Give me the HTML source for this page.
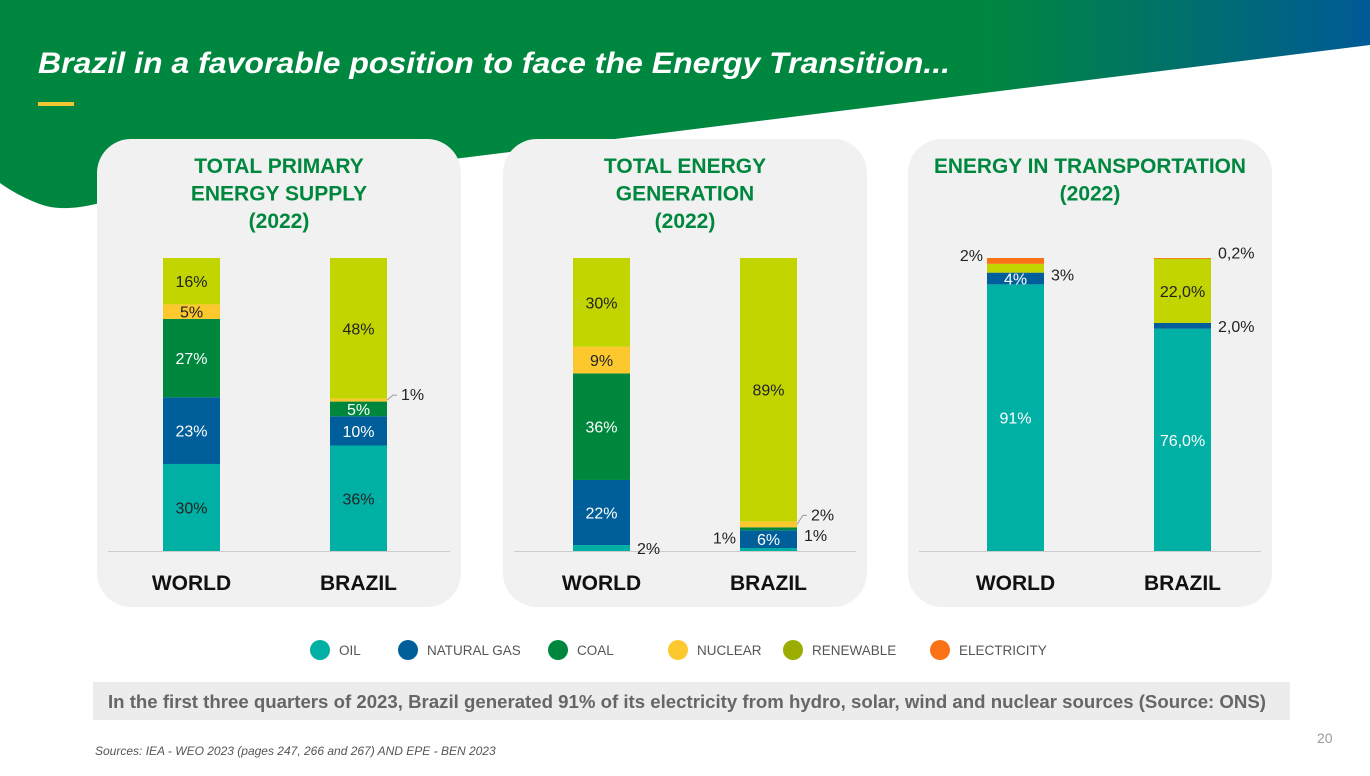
<!DOCTYPE html>
<html><head><meta charset="utf-8"><style>
body{margin:0;width:1370px;height:771px;overflow:hidden;background:#fff;font-family:"Liberation Sans",sans-serif}
svg text{font-family:"Liberation Sans",sans-serif}
</style></head><body>
<svg id="s" width="1370" height="771" viewBox="0 0 1370 771" xmlns="http://www.w3.org/2000/svg">
<defs><linearGradient id="hg" x1="0" x2="1" y1="0" y2="0"><stop offset="0" stop-color="#00873f"/><stop offset="0.72" stop-color="#00873f"/><stop offset="1" stop-color="#005a96"/></linearGradient></defs>
<path d="M0,0 H1370 V45 L100,203 C80,208 62,210 46,206 C26,200 10,190 0,183 Z" fill="url(#hg)"/>
<text x="38" y="73" fill="#fff" font-size="30" font-weight="bold" font-style="italic" textLength="912" lengthAdjust="spacingAndGlyphs">Brazil in a favorable position to face the Energy Transition...</text>
<rect x="38" y="102" width="36" height="4" fill="#f2c832"/>
<g id="panels"></g>
<g id="legend"></g>
<rect x="93" y="682" width="1197" height="38" fill="#ececec"/>
<text x="108" y="708" fill="#666" font-size="18" font-weight="bold" textLength="1158" lengthAdjust="spacingAndGlyphs">In the first three quarters of 2023, Brazil generated 91% of its electricity from hydro, solar, wind and nuclear sources (Source: ONS)</text>
<text x="95" y="755" fill="#555" font-size="12" font-style="italic">Sources: IEA - WEO 2023 (pages 247, 266 and 267) AND EPE - BEN 2023</text>
<text x="1317" y="743" fill="#999" font-size="14">20</text>
</svg>
<script>
const categories = ["WORLD","BRAZIL"];
const seriesNames = ["OIL","NATURAL GAS","COAL","NUCLEAR","RENEWABLE","ELECTRICITY"];
const tpesWorld = [30,23,27,5,16,0];
const tpesBrazil = [36,10,5,1,48,0];
const genWorld = [2,22,36,9,30,0];
const genBrazil = [1,6,1,2,89,0];
const transWorld = [91,4,0,0,3,2];
const transBrazil = [76,2,0,0,22,0.2];
const tpesLabels = [["30%","23%","27%","5%","16%",""],["36%","10%","5%","1%","48%",""]];
const genLabels = [["2%","22%","36%","9%","30%",""],["1%","6%","1%","2%","89%",""]];
const transLabels = [["91%","4%","","","3%","2%"],["76,0%","2,0%","","","22,0%","0,2%"]];

const colors=["#00b0a5","#005f9a","#00873e","#fcc82e","#c3d500","#f97316"];
const legendColors=["#00b0a5","#005f9a","#00873e","#fcc82e","#9aad00","#f97316"];
const NS="http://www.w3.org/2000/svg";
function mk(t,a,p){const e=document.createElementNS(NS,t);for(const k in a)e.setAttribute(k,a[k]);p.appendChild(e);return e;}
const base=551, plotH=293;
const modes=[
 [["in","in","in","in","in"],["in","in","in","rl","in"]],
 [["r","in","in","in","in"],["l","in","r","rl","in"]],
 [["in","in","","","r","l"],["in","r","","","in","r"]]
];
const panels=[
 {x:97,off:[66,233],title:["TOTAL PRIMARY","ENERGY SUPPLY","(2022)"],data:[tpesWorld,tpesBrazil],labels:tpesLabels,name:"primary-energy"},
 {x:503,off:[70,237],title:["TOTAL ENERGY","GENERATION","(2022)"],data:[genWorld,genBrazil],labels:genLabels,name:"energy-generation"},
 {x:908,off:[79,246],title:["ENERGY IN TRANSPORTATION","(2022)"],data:[transWorld,transBrazil],labels:transLabels,name:"transportation"}
];
const P=document.getElementById("panels");
panels.forEach((p,pi)=>{
 const g=mk("g",{},P);
 
 
 mk("rect",{x:p.x,y:139,width:364,height:468,rx:34,fill:"#f1f1f1"},g);
 p.title.forEach((t,i)=>{const e=mk("text",{x:p.x+182,y:173+i*27.5,"text-anchor":"middle",fill:"#00873e","font-size":21,"font-weight":"bold"},g);e.textContent=t;
  if(t.length>20){e.setAttribute("textLength","312");e.setAttribute("lengthAdjust","spacingAndGlyphs");}
  
  });
 const ax=mk("line",{x1:p.x+11,x2:p.x+353,y1:551.5,y2:551.5,stroke:"#ccc","stroke-width":1},g);
 
 
 p.data.forEach((vals,ci)=>{
  const bx=p.x+p.off[ci], bw=57;
  const total=vals.reduce((a,b)=>a+b,0);
  const ys=v=>v/total*plotH;
  let cum=0;
  vals.forEach((v,si)=>{
   const y1=base-ys(cum), y0=base-ys(cum+v);
   cum+=v;
   if(v<=0)return;
   const r=mk("rect",{x:bx,y:y0,width:bw,height:Math.max(y1-y0,0.8),fill:colors[si]},g);
   
   
   const lab=p.labels[ci][si], m=modes[pi][ci][si];
   if(!lab)return;
   const cy=(y0+y1)/2;
   let t;
   if(m=="in"){t=mk("text",{x:bx+bw/2,y:cy+6,"text-anchor":"middle","font-size":16,fill:(si==1||si==2||(si==0&&pi==2))?"#fff":"#222"},g);}
   else if(m=="l"){t=mk("text",{x:bx-4,y:cy+(pi==2?0:-6),"text-anchor":"end","font-size":16,fill:"#222"},g);}
   else if(m=="rl"){const dy=pi==1?-9:-5;
     mk("path",{d:`M${bx+bw},${cy} L${bx+bw+6},${cy+dy} H${bx+bw+10}`,stroke:"#999",fill:"none"},g);
     t=mk("text",{x:bx+bw+14,y:cy+dy+5,"text-anchor":"start","font-size":16,fill:"#222"},g);}
   else {t=mk("text",{x:bx+bw+7,y:cy+(pi==2&&si==5?0:pi==2&&si==4&&ci==0?12:6)+(pi==1&&ci==1?6:0),"text-anchor":"start","font-size":16,fill:"#222"},g);}
   t.textContent=lab;
   
   
  });
  const c=mk("text",{x:bx+bw/2,y:590,"text-anchor":"middle","font-size":21,"font-weight":"bold",fill:"#111"},g);
  c.textContent=categories[ci];
  
  
 });
});
const L=document.getElementById("legend");
const lx=[320,408,558,678,793,940];
seriesNames.forEach((n,i)=>{
 const g=mk("g",{},L);
 
 
 mk("circle",{cx:lx[i],cy:650,r:10,fill:legendColors[i]},g);
 const t=mk("text",{x:lx[i]+19,y:655,"font-size":13.5,fill:"#555"},g);t.textContent=n;
});
</script>
</body></html>
